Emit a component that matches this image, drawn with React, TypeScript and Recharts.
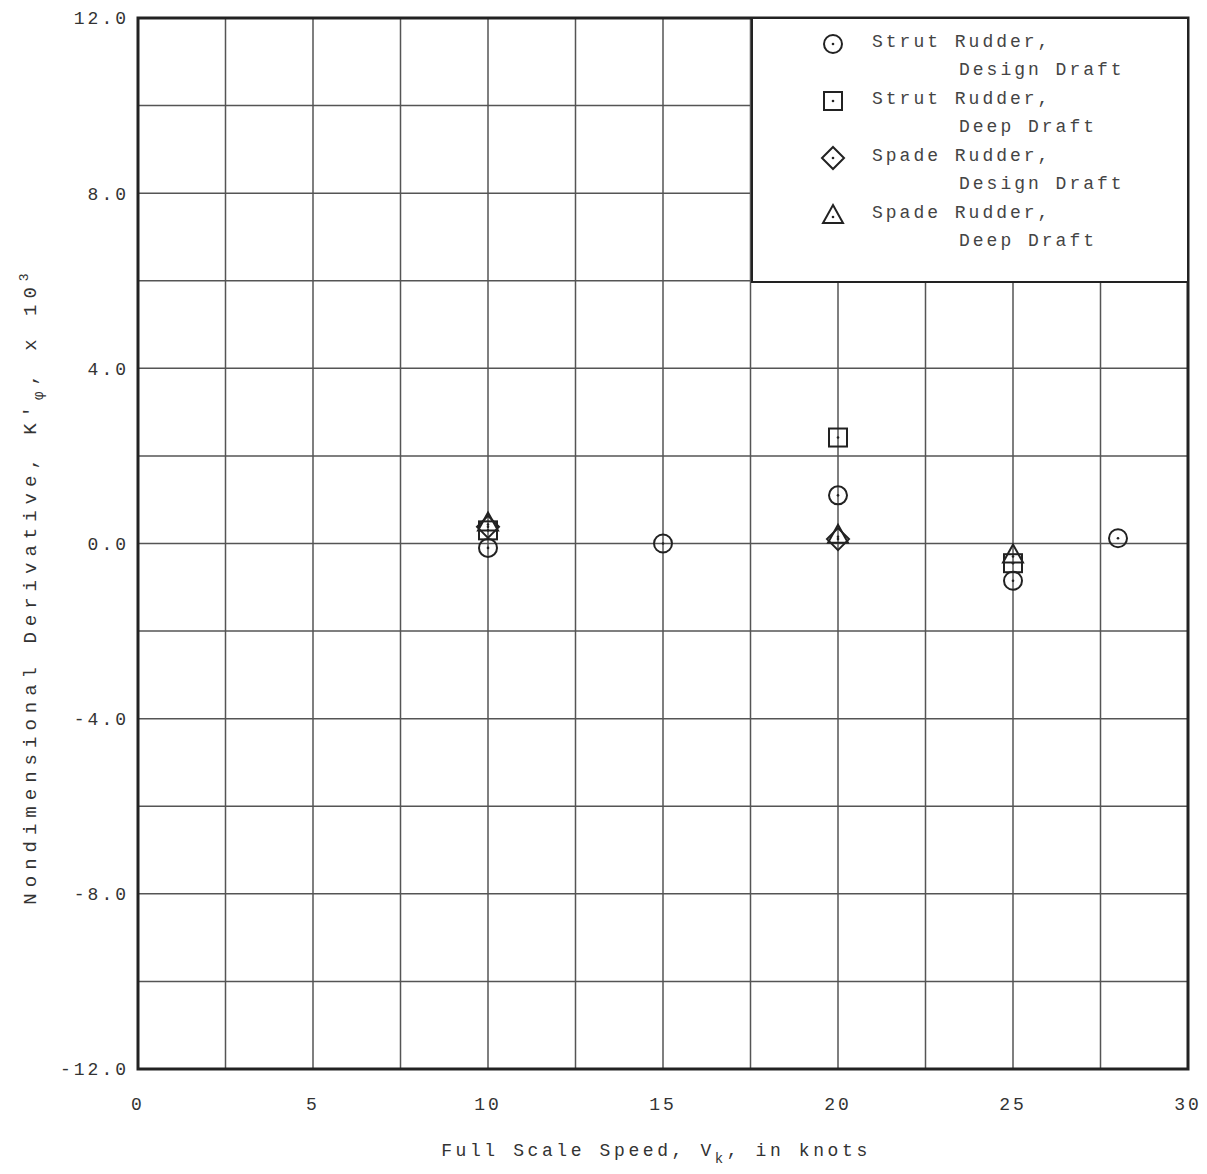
import React from "react";
import {
    ScatterChart,
    Scatter,
    XAxis,
    YAxis,
    CartesianGrid,
    ReferenceArea,
} from "recharts";

// series values (knots, K'phi x 10^3)
const strutDesign = [
    { x: 10, y: -0.1 },
    { x: 15, y: 0 },
    { x: 20, y: 1.1 },
    { x: 25, y: -0.85 },
    { x: 28, y: 0.12 },
];
const strutDeep = [
    { x: 10, y: 0.3 },
    { x: 20, y: 2.42 },
    { x: 25, y: -0.45 },
];
const spadeDesign = [
    { x: 10, y: 0.38 },
    { x: 20, y: 0.1 },
];
const spadeDeep = [
    { x: 10, y: 0.48 },
    { x: 20, y: 0.2 },
    { x: 25, y: -0.25 },
];

const xTicks = [0, 2.5, 5, 7.5, 10, 12.5, 15, 17.5, 20, 22.5, 25, 27.5, 30];
const yTicks = [-12, -10, -8, -6, -4, -2, 0, 2, 4, 6, 8, 10, 12];

const FONT = "'Liberation Mono', 'DejaVu Sans Mono', monospace";
const INK = "#222";

type P = { cx?: number; cy?: number };

const CircleMark = ({ cx = 0, cy = 0 }: P) => (
    <g>
        <circle cx={cx} cy={cy} r={9} fill="none" stroke={INK} strokeWidth={2} />
        <circle cx={cx} cy={cy} r={1.3} fill={INK} />
    </g>
);
const SquareMark = ({ cx = 0, cy = 0 }: P) => (
    <g>
        <rect x={cx - 9} y={cy - 9} width={18} height={18} fill="none" stroke={INK} strokeWidth={2} />
        <circle cx={cx} cy={cy} r={1.3} fill={INK} />
    </g>
);
const DiamondMark = ({ cx = 0, cy = 0 }: P) => (
    <g>
        <path d={`M${cx},${cy - 11} L${cx + 11},${cy} L${cx},${cy + 11} L${cx - 11},${cy} Z`} fill="none" stroke={INK} strokeWidth={2} />
        <circle cx={cx} cy={cy} r={1.3} fill={INK} />
    </g>
);
const TriangleMark = ({ cx = 0, cy = 0 }: P) => (
    <g>
        <path d={`M${cx},${cy - 10} L${cx + 10},${cy + 8} L${cx - 10},${cy + 8} Z`} fill="none" stroke={INK} strokeWidth={2} />
        <circle cx={cx} cy={cy + 2} r={1.3} fill={INK} />
    </g>
);

const series = [
    { name: "Strut Rudder,", sub: "Design Draft", data: strutDesign, Mark: CircleMark },
    { name: "Strut Rudder,", sub: "Deep Draft", data: strutDeep, Mark: SquareMark },
    { name: "Spade Rudder,", sub: "Design Draft", data: spadeDesign, Mark: DiamondMark },
    { name: "Spade Rudder,", sub: "Deep Draft", data: spadeDeep, Mark: TriangleMark },
];

const textStyle = { fontFamily: FONT, fontSize: 18, letterSpacing: 3, fill: "#333" };

const LegendBox = () => (
    <div
        style={{
            position: "absolute",
            left: 751,
            top: 17,
            width: 438,
            height: 266,
            boxSizing: "border-box",
            background: "#fff",
            border: `2px solid ${INK}`,
            paddingTop: 10,
            fontFamily: FONT,
            fontSize: 18,
            letterSpacing: 3,
            color: "#444",
        }}
    >
        {series.map((s, i) => (
            <div key={i} style={{ position: "relative", height: 57 }}>
                <svg width={30} height={30} style={{ position: "absolute", left: 65, top: 0 }}>
                    <s.Mark cx={15} cy={15} />
                </svg>
                <div style={{ position: "absolute", left: 119, top: 3, whiteSpace: "pre" }}>{s.name}</div>
                <div style={{ position: "absolute", left: 206, top: 31, whiteSpace: "pre" }}>{s.sub}</div>
            </div>
        ))}
    </div>
);

const YLabel = () => (
    <text transform="translate(36, 586) rotate(-90)" textAnchor="middle" style={{ ...textStyle, fontSize: 19, letterSpacing: 6 }}>
        <tspan>Nondimensional Derivative, K'</tspan>
        <tspan dy={7} fontSize={14}>φ</tspan>
        <tspan dy={-7}>, x 10</tspan>
        <tspan dy={-8} fontSize={13}>3</tspan>
    </text>
);

const XLabel = () => (
    <text x={656} y={1156} textAnchor="middle" style={{ ...textStyle, letterSpacing: 3.6 }}>
        <tspan>Full Scale Speed, V</tspan>
        <tspan dy={7} fontSize={14}>k</tspan>
        <tspan dy={-7}>, in knots</tspan>
    </text>
);

export default function App() {
    return (
        <div style={{ position: "absolute", left: 0, top: 0, width: 1207, height: 1174, background: "#fff" }}>
            <ScatterChart width={1207} height={1174} margin={{ top: 18, right: 19, bottom: 0, left: 0 }}>
                <CartesianGrid stroke="#555" strokeWidth={1.5} horizontalValues={yTicks} verticalValues={xTicks} />
                <XAxis
                    type="number"
                    dataKey="x"
                    domain={[0, 30]}
                    ticks={xTicks}
                    tickFormatter={(v: number) => (v % 5 === 0 ? String(v) : "")}
                    interval={0}
                    height={105}
                    axisLine={false}
                    tickLine={false}
                    tickMargin={22}
                    tick={{ ...textStyle }}
                />
                <YAxis
                    type="number"
                    dataKey="y"
                    domain={[-12, 12]}
                    ticks={yTicks}
                    tickFormatter={(v: number) => (v % 4 === 0 ? v.toFixed(1) : "")}
                    interval={0}
                    width={138}
                    axisLine={false}
                    tickLine={false}
                    tickMargin={3}
                    tick={{ ...textStyle }}
                />
                <ReferenceArea x1={0} x2={30} y1={-12} y2={12} fill="none" stroke={INK} strokeWidth={3} ifOverflow="visible" />
                {series.map((s, i) => (
                    <Scatter
                        key={i}
                        name={`${s.name} ${s.sub}`}
                        data={s.data}
                        shape={(p: P) => <s.Mark cx={p.cx} cy={p.cy} />}
                        isAnimationActive={false}
                    />
                ))}
                <YLabel />
                <XLabel />
            </ScatterChart>
            <LegendBox />
        </div>
    );
}
